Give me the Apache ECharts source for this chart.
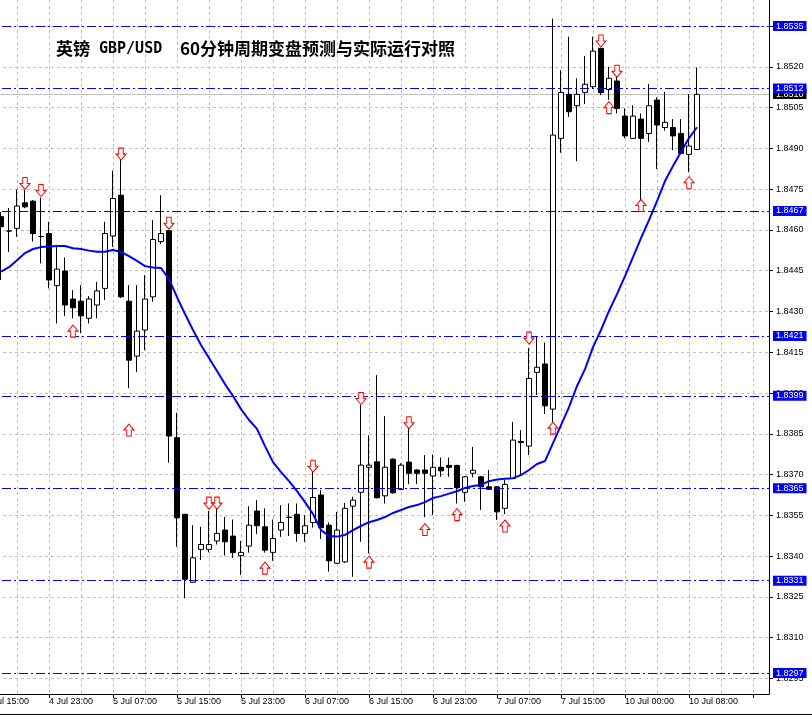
<!DOCTYPE html>
<html>
<head>
<meta charset="utf-8">
<script src="https://cdn.jsdelivr.net/npm/echarts@6/dist/echarts.min.js"></script>
<style>
html,body{margin:0;padding:0;background:#fff;}
#c{width:812px;height:715px;}
</style>
</head>
<body>
<div id="c"></div>
<script>
// ---- categories (hourly bars; the first two are just off the left edge, the last nine are the empty right margin)
const times = [
'4 Jul 15:00','4 Jul 16:00','4 Jul 17:00','4 Jul 18:00','4 Jul 19:00','4 Jul 20:00','4 Jul 21:00','4 Jul 22:00','4 Jul 23:00',
'5 Jul 00:00','5 Jul 01:00','5 Jul 02:00','5 Jul 03:00','5 Jul 04:00','5 Jul 05:00','5 Jul 06:00','5 Jul 07:00',
'5 Jul 08:00','5 Jul 09:00','5 Jul 10:00','5 Jul 11:00','5 Jul 12:00','5 Jul 13:00','5 Jul 14:00','5 Jul 15:00',
'5 Jul 16:00','5 Jul 17:00','5 Jul 18:00','5 Jul 19:00','5 Jul 20:00','5 Jul 21:00','5 Jul 22:00','5 Jul 23:00',
'6 Jul 00:00','6 Jul 01:00','6 Jul 02:00','6 Jul 03:00','6 Jul 04:00','6 Jul 05:00','6 Jul 06:00','6 Jul 07:00',
'6 Jul 08:00','6 Jul 09:00','6 Jul 10:00','6 Jul 11:00','6 Jul 12:00','6 Jul 13:00','6 Jul 14:00','6 Jul 15:00',
'6 Jul 16:00','6 Jul 17:00','6 Jul 18:00','6 Jul 19:00','6 Jul 20:00','6 Jul 21:00','6 Jul 22:00','6 Jul 23:00',
'7 Jul 00:00','7 Jul 01:00','7 Jul 02:00','7 Jul 03:00','7 Jul 04:00','7 Jul 05:00','7 Jul 06:00','7 Jul 07:00',
'7 Jul 08:00','7 Jul 09:00','7 Jul 10:00','7 Jul 11:00','7 Jul 12:00','7 Jul 13:00','7 Jul 14:00','7 Jul 15:00',
'7 Jul 16:00','7 Jul 17:00','7 Jul 18:00','7 Jul 19:00','7 Jul 20:00','7 Jul 21:00','7 Jul 22:00',
'10 Jul 00:00','10 Jul 01:00','10 Jul 02:00','10 Jul 03:00','10 Jul 04:00','10 Jul 05:00','10 Jul 06:00','10 Jul 07:00',
'10 Jul 08:00','10 Jul 09:00',
'','','','','','','','',''
];
const firstBar = 2; // index in times of the first visible bar (4 Jul 17:00)

// ---- candles (4 Jul 17:00 .. 10 Jul 09:00)
const opens = [
1.84649,1.84596,1.84606,1.84700,1.84706,1.84576,1.84587,1.84395,1.84449,1.84346,
1.84338,1.84275,1.84324,1.84385,1.84578,1.84728,1.84338,1.84136,1.84232,1.84354,
1.84557,1.84597,1.83836,1.83554,1.83304,1.83425,1.83425,1.83456,1.83496,1.83474,
1.83402,1.83437,1.83566,1.83508,1.83414,1.83496,1.83543,1.83554,1.83484,1.83524,
1.83625,1.83514,1.83374,1.83379,1.83584,1.83635,1.83727,1.83747,1.83622,1.83757,
1.83646,1.83746,1.83717,1.83717,1.83695,1.83727,1.83734,1.83734,1.83635,1.83705,
1.83692,1.83655,1.83655,1.83576,1.83686,1.83822,1.83805,1.84076,1.84107,1.83941,
1.84937,1.85099,1.85057,1.85106,1.85127,1.85268,1.85117,1.85148,1.85019,1.84937,
1.85008,1.84955,1.85078,1.84977,1.84977,1.84955,1.84878,1.84896
];
const closes = [
1.84612,1.84596,1.84688,1.84685,1.84587,1.84576,1.84416,1.84456,1.84324,1.84314,
1.84284,1.84346,1.84376,1.84587,1.84716,1.84354,1.84121,1.84228,1.84346,1.84565,
1.84587,1.83842,1.83541,1.83315,1.83394,1.83443,1.83443,1.83484,1.83453,1.83413,
1.83414,1.83514,1.83512,1.83422,1.83465,1.83524,1.83543,1.83484,1.83512,1.83616,
1.83505,1.83383,1.83496,1.83576,1.83606,1.83735,1.83735,1.83615,1.83727,1.83633,
1.83735,1.83705,1.83705,1.83705,1.83727,1.83714,1.83727,1.83652,1.83692,1.83716,
1.83655,1.83646,1.83563,1.83664,1.83827,1.83818,1.84054,1.84095,1.83953,1.84949,
1.85106,1.85035,1.85099,1.85136,1.85258,1.85105,1.85158,1.85047,1.84946,1.85019,
1.84937,1.85057,1.84986,1.84996,1.84946,1.84882,1.84909,1.85099
];
const lows = [
1.84416,1.84519,1.84575,1.84680,1.84557,1.84477,1.84385,1.84256,1.84283,1.84275,
1.84220,1.84256,1.84275,1.84342,1.84538,1.84350,1.84018,1.84077,1.84158,1.84336,
1.84548,1.83744,1.83435,1.83245,1.83302,1.83386,1.83414,1.83443,1.83402,1.83394,
1.83331,1.83413,1.83481,1.83413,1.83383,1.83471,1.83474,1.83453,1.83453,1.83505,
1.83463,1.83343,1.83372,1.83375,1.83324,1.83453,1.83410,1.83612,1.83594,1.83630,
1.83643,1.83665,1.83665,1.83543,1.83551,1.83692,1.83692,1.83594,1.83600,1.83690,
1.83570,1.83644,1.83533,1.83555,1.83684,1.83696,1.83772,1.83993,1.83923,1.83893,
1.84884,1.85016,1.84853,1.85063,1.85122,1.85096,1.85078,1.85029,1.84937,1.84935,
1.84710,1.84924,1.84824,1.84965,1.84894,1.84880,1.84812,1.84894
];
const highs = [
1.84666,1.84681,1.84749,1.84747,1.84710,1.84719,1.84630,1.84544,1.84499,1.84379,
1.84397,1.84357,1.84409,1.84630,1.84818,1.84859,1.84397,1.84397,1.84434,1.84636,
1.84728,1.84600,1.83928,1.83556,1.83514,1.83508,1.83566,1.83610,1.83545,1.83535,
1.83456,1.83584,1.83606,1.83576,1.83535,1.83588,1.83594,1.83594,1.83551,1.83710,
1.83643,1.83524,1.83563,1.83596,1.83619,1.83956,1.83845,1.84066,1.83915,1.83760,
1.83742,1.83879,1.83720,1.83772,1.83774,1.83763,1.83763,1.83736,1.83695,1.83802,
1.83695,1.83717,1.83658,1.83680,1.83894,1.83864,1.84166,1.84210,1.84186,1.85378,
1.85188,1.85311,1.85158,1.85240,1.85311,1.85270,1.85200,1.85163,1.85047,1.85059,
1.85029,1.85137,1.85088,1.85108,1.85008,1.85008,1.85100,1.85198
];

// ---- blue trend curve (one value per bar)
const trendLine = [
1.84447,1.84463,1.84489,1.84515,1.84530,1.84537,1.84539,1.84541,1.84541,1.84533,
1.84530,1.84524,1.84520,1.84520,1.84526,1.84519,1.84504,1.84486,1.84467,1.84462,
1.84460,1.84419,1.84353,1.84291,1.84232,1.84177,1.84129,1.84081,1.84033,1.83989,
1.83941,1.83901,1.83868,1.83805,1.83746,1.83709,1.83676,1.83639,1.83599,1.83555,
1.83496,1.83474,1.83472,1.83478,1.83496,1.83511,1.83525,1.83533,1.83544,1.83559,
1.83570,1.83581,1.83588,1.83599,1.83614,1.83621,1.83630,1.83639,1.83651,1.83658,
1.83662,1.83676,1.83682,1.83685,1.83687,1.83698,1.83717,1.83739,1.83750,1.83816,
1.83882,1.83948,1.84026,1.84088,1.84169,1.84232,1.84302,1.84364,1.84430,1.84500,
1.84570,1.84636,1.84706,1.84780,1.84835,1.84887,1.84938,1.84978
];

// ---- turn signals (bar number counted from the first visible bar, price where the arrow sits)
const downArrowBars   = [3, 5, 15, 21, 26, 27, 39, 45, 51, 66, 75, 77];
const downArrowPrices = [1.84771,1.84745,1.84879,1.84625,1.83595,1.83595,1.83731,1.83980,1.83891,1.84202,1.85295,1.85184];
const upArrowBars     = [9, 16, 33, 46, 53, 57, 63, 69, 76, 80, 86];
const upArrowPrices   = [1.84228,1.83864,1.83356,1.83378,1.83498,1.83553,1.83511,1.83871,1.85050,1.84690,1.84774];

// ---- horizontal forecast levels, bid line and price-scale ticks
const levelLines = [1.8535, 1.8512, 1.8467, 1.8421, 1.8399, 1.8365, 1.8331, 1.8297];
const bidPrice = 1.8510;
const priceTicks = [1.8295,1.8310,1.8325,1.8340,1.8355,1.8370,1.8385,1.8400,1.8415,1.8430,1.8445,1.8460,1.8475,1.8490,1.8505,1.8520,1.8535];

const yMin = 1.82893, yMax = 1.85446;

// ---- build series data
const candleData = opens.map((o, k) => [k + firstBar, o, closes[k], lows[k], highs[k]]);
const trendData = trendLine.map((v, k) => [k + firstBar, v]);
const downData = downArrowBars.map((k, j) => [k + firstBar, downArrowPrices[j]]);
const upData = upArrowBars.map((k, j) => [k + firstBar, upArrowPrices[j]]);

const FONT = 'Liberation Sans';
const fmt4 = v => Number(v).toFixed(4);
const downPath = 'path://M3,0 L8,0 L8,6 L11,6 L5.5,12 L0,6 L3,6 Z';
const upPath = 'path://M5.5,0 L11,6 L8,6 L8,12 L3,12 L3,6 L0,6 Z';

const chart = echarts.init(document.getElementById('c'), null, {renderer: 'canvas'});
chart.setOption({
  animation: false,
  backgroundColor: '#ffffff',
  grid: {left: -15, right: 43, top: 0, bottom: 21, containLabel: false, outerBoundsMode: 'none'},
  xAxis: {
    type: 'category',
    data: times,
    boundaryGap: false,
    axisLine: {show: true, lineStyle: {color: '#000', width: 1}},
    axisTick: {show: true, length: 4, interval: (i) => i % 8 === 0, lineStyle: {color: '#000'}},
    axisLabel: {interval: (i) => i % 8 === 0, align: 'left', margin: 3, fontSize: 9, fontFamily: FONT, color: '#000'},
    splitLine: {show: true, interval: (i) => i % 4 === 0, lineStyle: {color: '#c0c0c0', type: [3, 3], width: 1}}
  },
  yAxis: {
    type: 'value',
    position: 'right',
    min: yMin, max: yMax,
    splitLine: {show: false},
    axisLine: {show: true, lineStyle: {color: '#000', width: 1}},
    axisTick: {show: true, length: 4, customValues: priceTicks, lineStyle: {color: '#000'}},
    axisLabel: {customValues: priceTicks, formatter: fmt4, margin: 7, fontSize: 9, fontFamily: FONT, color: '#000'}
  },
  graphic: [
    {type: 'text', x: 56, y: 49, z: 100, style: {text: '英镑', fontFamily: 'Noto Sans CJK SC', fontWeight: 'bold', fontSize: 17, fill: '#000', verticalAlign: 'middle'}},
    {type: 'text', x: 99, y: 49, z: 100, style: {text: 'GBP/USD', fontFamily: 'DejaVu Sans Mono', fontWeight: 'bold', fontSize: 15, fill: '#000', verticalAlign: 'middle'}},
    {type: 'text', x: 180, y: 49, z: 100, style: {text: '60分钟周期变盘预测与实际运行对照', fontFamily: 'Noto Sans CJK SC', fontWeight: 'bold', fontSize: 17, fill: '#000', verticalAlign: 'middle'}},
    {type: 'line', z: 100, shape: {x1: 0, y1: 714.5, x2: 812, y2: 714.5}, style: {stroke: '#000', lineWidth: 1}}
  ],
  series: [
    {
      name: 'GBPUSD', type: 'candlestick', z: 2,
      barWidth: 5,
      encode: {x: 0, y: [1, 2, 3, 4]},
      data: candleData,
      itemStyle: {color: '#ffffff', color0: '#000000', borderColor: '#000000', borderColor0: '#000000', borderColorDoji: '#000000', borderWidth: 1},
      markLine: {
        silent: true, z: 1, precision: 5, symbol: ['none', 'none'], animation: false,
        lineStyle: {color: '#c0c0c0', type: [3, 3], width: 1},
        label: {show: false},
        data: priceTicks.map(v => ({yAxis: v}))
      }
    },
    {
      name: 'trend', type: 'line', z: 3,
      data: trendData, showSymbol: false, symbol: 'none',
      lineStyle: {color: '#0000ff', width: 2}, clip: false,
      markLine: {
        silent: true, z: 3, precision: 5, symbol: ['none', 'none'], animation: false,
        lineStyle: {color: '#0000ff', type: [9, 3, 2, 3], width: 1},
        label: {show: true, position: 'end', distance: 4, formatter: p => fmt4(p.value),
          color: '#ffffff', backgroundColor: '#0000ff', padding: [1, 3, 0, 3], fontSize: 9, lineHeight: 9, fontFamily: FONT},
        data: levelLines.map(v => ({yAxis: v}))
      }
    },
    {
      name: 'down', type: 'scatter', z: 4,
      data: downData, symbol: downPath, symbolSize: [10, 12],
      itemStyle: {color: '#ffffff', borderColor: '#ff0000', borderWidth: 1, opacity: 1},
      markLine: {
        silent: true, z: 1, precision: 5, symbol: ['none', 'none'], animation: false,
        lineStyle: {color: '#c0c0c0', type: 'solid', width: 1},
        label: {show: true, position: 'end', distance: 4, formatter: p => fmt4(p.value),
          color: '#ffffff', backgroundColor: '#000000', padding: [1, 3, 0, 3], fontSize: 9, lineHeight: 9, fontFamily: FONT},
        data: [{yAxis: bidPrice}]
      }
    },
    {
      name: 'up', type: 'scatter', z: 4,
      data: upData, symbol: upPath, symbolSize: [10, 12],
      itemStyle: {color: '#ffffff', borderColor: '#ff0000', borderWidth: 1, opacity: 1}
    }
  ]
});
</script>
</body>
</html>
